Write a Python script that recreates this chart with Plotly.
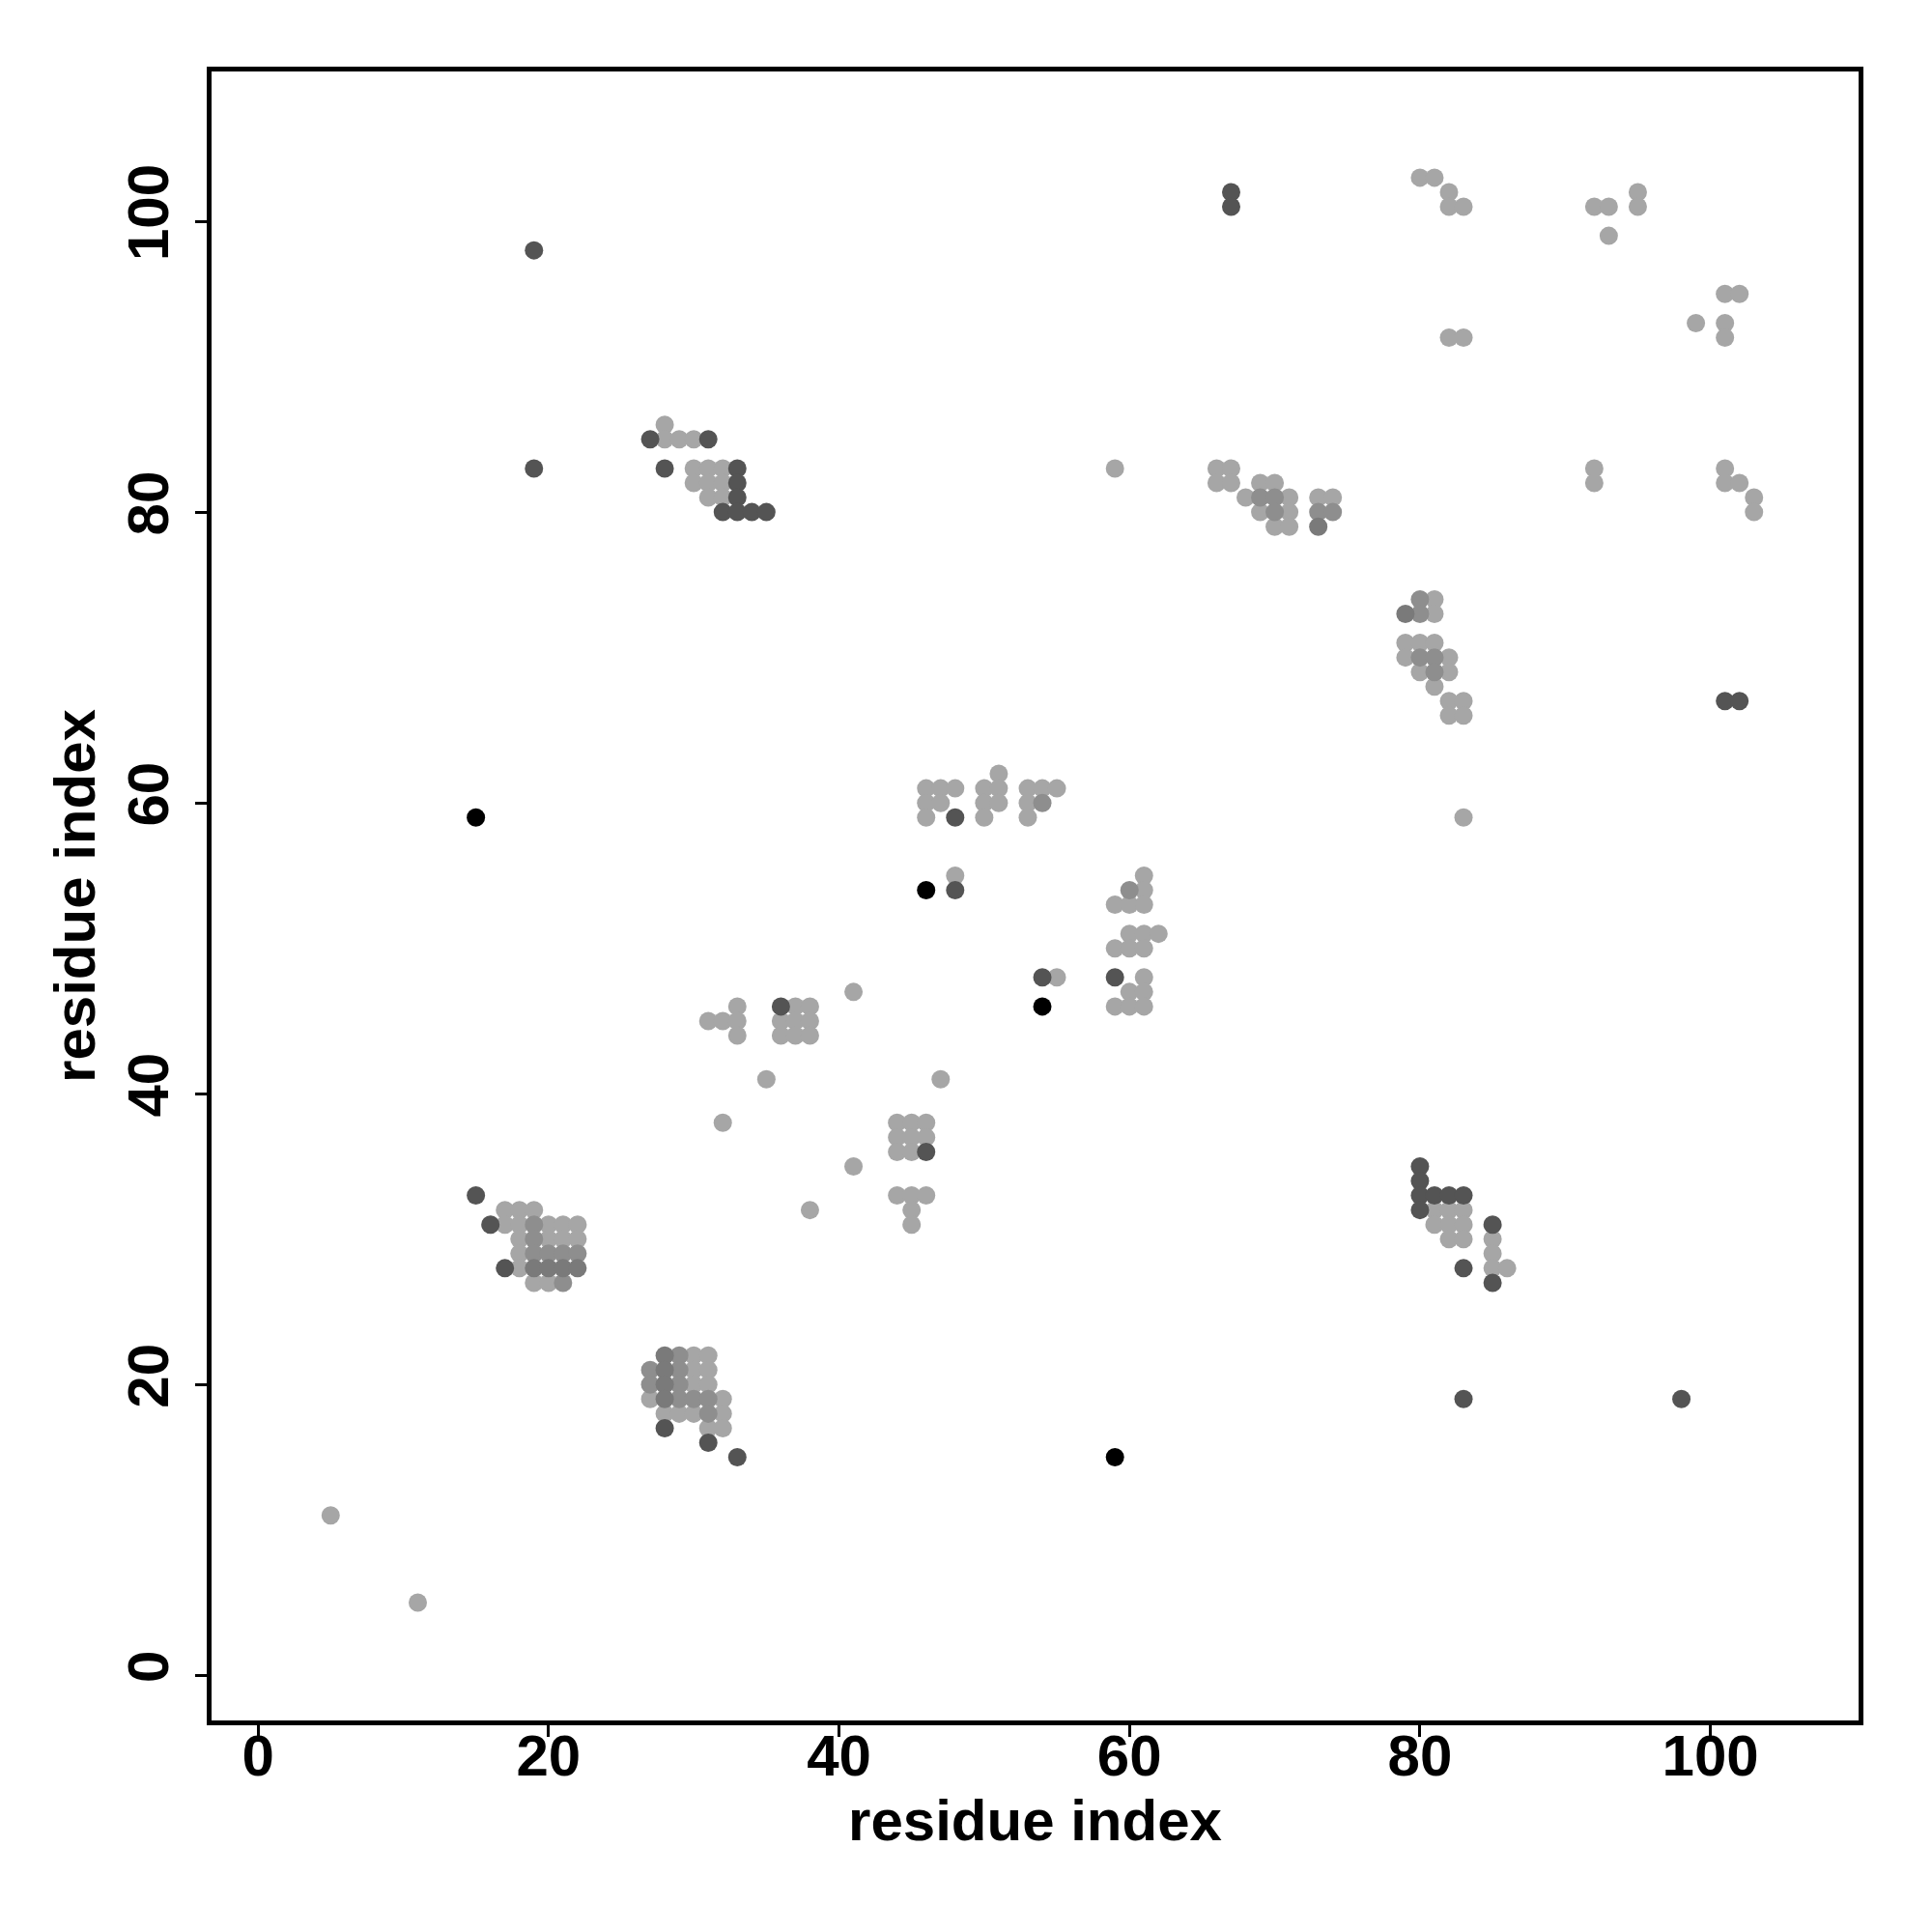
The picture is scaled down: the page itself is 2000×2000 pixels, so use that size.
import plotly.graph_objects as go

# Contact map points grouped by shade (residue i, residue j)
light_x = [5, 11,
           17, 18, 19, 17, 18, 20, 21, 22, 18, 20, 21, 22, 18, 18, 19, 20,
           30, 31, 30, 31, 30, 31, 27, 32, 28, 29, 30, 32, 31, 32,
           33, 31, 32, 33, 33, 37, 38, 36, 37, 38, 36, 37, 38, 41, 35, 47, 32,
           44, 45, 46, 44, 45, 46, 44, 45, 41, 44, 45, 46, 45, 45, 38,
           46, 47, 48, 46, 47, 46, 51, 50, 51, 50, 51, 50, 53, 54, 55, 53, 53, 48, 55,
           61, 61, 59, 60, 61, 60, 61, 62, 59, 60, 61, 61, 60, 61, 59, 60, 61,
           28, 28, 29, 30, 30, 31, 32, 30, 31, 32, 31, 32, 59,
           66, 67, 66, 67, 69, 70, 68, 71, 69, 71, 70, 71, 73, 74,
           81, 81, 79, 80, 81, 79, 82, 80, 82, 81, 82, 83, 82, 83, 83,
           81, 82, 83, 81, 82, 83, 82, 83, 85, 85, 85, 86,
           80, 81, 82, 82, 83, 92, 93, 95, 95, 93, 101, 102, 99, 101, 101, 82, 83,
           92, 92, 101, 101, 102, 103, 103]
light_y = [11, 5,
           32, 32, 32, 31, 31, 31, 31, 31, 30, 30, 30, 30, 29, 28, 27, 27,
           22, 22, 21, 21, 20, 20, 19, 19, 18, 18, 18, 18, 17, 17,
           46, 45, 45, 45, 44, 46, 46, 45, 45, 45, 44, 44, 44, 47, 41, 41, 38,
           38, 38, 38, 37, 37, 37, 36, 36, 35, 33, 33, 33, 32, 31, 32,
           61, 61, 61, 60, 60, 59, 62, 61, 61, 60, 60, 59, 61, 61, 61, 60, 59, 55, 48,
           55, 54, 53, 53, 53, 51, 51, 51, 50, 50, 50, 48, 47, 47, 46, 46, 46,
           86, 85, 85, 85, 83, 83, 83, 82, 82, 82, 81, 81, 83,
           83, 83, 82, 82, 82, 82, 81, 81, 80, 80, 79, 79, 81, 81,
           74, 73, 71, 71, 71, 70, 70, 69, 69, 68, 67, 67, 66, 66, 59,
           32, 32, 32, 31, 31, 31, 30, 30, 30, 29, 28, 28,
           103, 103, 102, 101, 101, 101, 101, 102, 101, 99, 95, 95, 93, 93, 92, 92, 92,
           83, 82, 83, 82, 82, 81, 80]

mid_x = [19, 19, 19, 20, 21, 22, 21,
         29, 27, 29, 27, 29, 29, 30, 31, 31,
         54, 60, 69, 70, 70, 73, 74, 80, 80, 80, 81, 81]
mid_y = [31, 30, 29, 29, 29, 29, 27,
         22, 21, 21, 20, 20, 19, 19, 19, 18,
         60, 54, 81, 81, 80, 80, 80, 74, 73, 70, 70, 69]

middark_x = [19, 20, 21, 22, 28, 28, 28, 28, 73, 79]
middark_y = [28, 28, 28, 28, 22, 21, 20, 19, 79, 73]

dark_x = [15, 16, 17, 28, 31, 33, 36, 46, 48, 48, 54, 59,
          27, 31, 28, 33, 33, 33, 32, 33, 34, 35, 19, 19, 67, 67,
          80, 80, 80, 80, 81, 82, 83, 83, 85, 85, 83, 98, 101, 102]
dark_y = [33, 31, 28, 17, 16, 15, 46, 36, 59, 54, 48, 48,
          85, 85, 83, 83, 82, 81, 80, 80, 80, 80, 83, 98, 102, 101,
          35, 34, 33, 32, 33, 33, 33, 28, 31, 27, 19, 19, 67, 67]

black_x = [15, 46, 54, 59]
black_y = [59, 54, 46, 15]

x_ticks = [0, 20, 40, 60, 80, 100]
y_ticks = [0, 20, 40, 60, 80, 100]

groups = [
    (light_x, light_y, "#a6a6a6"),
    (mid_x, mid_y, "#8e8e8e"),
    (middark_x, middark_y, "#7a7a7a"),
    (dark_x, dark_y, "#545454"),
    (black_x, black_y, "#000000"),
]

fig = go.Figure()
for gx, gy, col in groups:
    fig.add_trace(go.Scatter(
        x=gx, y=gy, mode="markers",
        marker=dict(size=19, color=col, line=dict(width=0)),
        showlegend=False, hoverinfo="x+y",
    ))

font_family = "Liberation Sans, Arial, Helvetica, sans-serif"
axis_common = dict(
    showgrid=False, zeroline=False,
    showline=True, linecolor="black", linewidth=4.5, mirror=True,
    ticks="outside", ticklen=12, tickwidth=3, tickcolor="black",
    tickfont=dict(family=font_family, size=60, color="black", weight="bold"),
)

fig.update_layout(
    width=2000, height=2000,
    margin=dict(l=211, r=84, t=66, b=227),
    plot_bgcolor="white", paper_bgcolor="white",
    xaxis=dict(range=[-3.2, 110.2], tickvals=x_ticks, ticktext=[str(t) for t in x_ticks],
               ticklabelstandoff=-32,
               title=dict(text="residue index", standoff=4,
                          font=dict(family=font_family, size=60, color="black", weight="bold")),
               **axis_common),
    yaxis=dict(range=[-3.1, 110.3], tickvals=y_ticks, ticktext=[str(t) for t in y_ticks],
               tickangle=-90, ticklabelstandoff=4,
               title=dict(text="residue index", standoff=4,
                          font=dict(family=font_family, size=60, color="black", weight="bold")),
               **axis_common),
)

fig.write_html("out.html")
